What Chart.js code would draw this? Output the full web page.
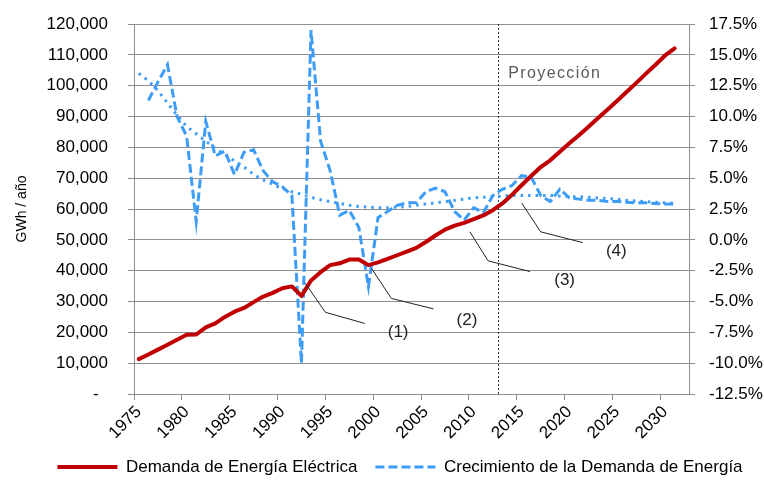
<!DOCTYPE html>
<html>
<head>
<meta charset="utf-8">
<script src="https://cdn.jsdelivr.net/npm/chart.js@4.4.1/dist/chart.umd.min.js"></script>
<style>
  html, body { margin: 0; padding: 0; background: #fff; }
</style>
</head>
<body>
<canvas id="demand-chart" width="764" height="487"></canvas>
<script>
// Categories (years). Axis runs one year past the last data point.
const years = [
  "1975", "1976", "1977", "1978", "1979", "1980", "1981", "1982", "1983", "1984",
  "1985", "1986", "1987", "1988", "1989", "1990", "1991", "1992", "1993", "1994",
  "1995", "1996", "1997", "1998", "1999", "2000", "2001", "2002", "2003", "2004",
  "2005", "2006", "2007", "2008", "2009", "2010", "2011", "2012", "2013", "2014",
  "2015", "2016", "2017", "2018", "2019", "2020", "2021", "2022", "2023", "2024",
  "2025", "2026", "2027", "2028", "2029", "2030", "2031", "2032"
];

// Demanda de energía eléctrica (GWh/año), 1975-2031
const demand = [
  11300, 12800, 14400, 16000, 17600, 19200, 19300, 21600, 22900, 25000,
  26700, 27900, 29800, 31600, 32800, 34300, 34900, 31800, 36800, 39500,
  41800, 42400, 43600, 43600, 41800, 42700, 43800, 45000, 46200, 47400,
  49300, 51400, 53300, 54600, 55500, 56700, 57900, 59600, 61800, 64600,
  67700, 70700, 73600, 75800, 78600, 81300, 83900, 86700, 89500, 92300,
  95100, 98000, 100900, 103900, 106800, 109800, 112100
];

// Crecimiento anual de la demanda (%), 1975-2031
const growth = [
  null, 11.3, 12.8, 14.2, 10.0, 8.4, 1.5, 9.6, 6.8, 7.2,
  5.3, 7.1, 7.3, 5.6, 4.7, 4.3, 3.6, -10.0, 17.0, 8.0,
  5.6, 2.0, 2.4, 1.0, -3.8, 1.8, 2.3, 2.8, 3.0, 3.0,
  3.9, 4.2, 3.9, 2.3, 1.6, 2.6, 2.2, 3.6, 4.1, 4.4,
  5.2, 5.1, 3.6, 3.1, 4.1, 3.4, 3.3, 3.2, 3.2, 3.1,
  3.1, 3.05, 3.0, 3.0, 2.95, 2.9, 2.9
];

// Tendencia (línea punteada), 1975-2031
const growthTrend = [
  13.5, 12.9, 12.1, 11.1, 10.1, 9.2, 8.6, 8.0, 7.4, 6.9,
  6.4, 5.9, 5.3, 4.85, 4.5, 4.15, 3.9, 3.7, 3.45, 3.25,
  3.1, 2.95, 2.8, 2.7, 2.65, 2.6, 2.6, 2.65, 2.7, 2.8,
  2.9, 3.0, 3.1, 3.2, 3.3, 3.4, 3.45, 3.5, 3.55, 3.6,
  3.6, 3.6, 3.6, 3.6, 3.55, 3.5, 3.5, 3.45, 3.4, 3.35,
  3.3, 3.2, 3.15, 3.1, 3.05, 3.0, 2.95
];

const projectionStart = 2013;

// Leader lines for the notes: points as [year, GWh]
const notes = [
  { label: "(1)", path: [[1992.4, 35900], [1994.5, 26500], [1998.6, 22900]], at: [2002.1, 19900] },
  { label: "(2)", path: [[1999.3, 40800], [2001.4, 31000], [2005.8, 27600]], at: [2009.3, 24000] },
  { label: "(3)", path: [[2009.6, 52600], [2011.5, 43200], [2015.9, 39700]], at: [2019.5, 37000] },
  { label: "(4)", path: [[2015.0, 62000], [2017.0, 52600], [2021.4, 49100]], at: [2024.9, 46200] },
];

const gridColor = "#8e8e8e";
const blue = "#3d9cf5";

Chart.defaults.font.family = "'Liberation Sans', Arial, sans-serif";
Chart.defaults.font.size = 17;
Chart.defaults.color = "#000";

const xPixel = (scale, year) => scale.getPixelForValue(year - Number(years[0]));

// keep the plot area where it is: tick padding should not push it down
const fixWidth = (w) => (scale) => {
  scale.width = w;
  scale.paddingTop = 0;
  scale.paddingBottom = 0;
};

const annotations = {
  id: "annotations",
  beforeDatasetsDraw(chart) {
    const { ctx, chartArea, scales } = chart;
    const bx = Math.round(xPixel(scales.x, projectionStart - 0.5)) + 0.5;
    ctx.save();
    ctx.strokeStyle = "#333";
    ctx.lineWidth = 1;
    ctx.setLineDash([2, 2]);
    ctx.beginPath();
    ctx.moveTo(bx, chartArea.top);
    ctx.lineTo(bx, chartArea.bottom);
    ctx.stroke();
    ctx.restore();
  },
  afterDatasetsDraw(chart) {
    const { ctx, scales } = chart;
    const x = scales.x, y = scales.y;
    ctx.save();

    // "Proyección" label
    ctx.fillStyle = "#5a5a5a";
    ctx.font = "16px 'Liberation Sans', Arial, sans-serif";
    ctx.letterSpacing = "1.4px";
    ctx.textAlign = "left";
    ctx.textBaseline = "middle";
    ctx.fillText("Proyección", xPixel(x, 2013.6), y.getPixelForValue(103800));
    ctx.letterSpacing = "0px";

    // numbered notes with leader lines
    ctx.strokeStyle = "#222";
    ctx.lineWidth = 1;
    ctx.fillStyle = "#222";
    ctx.font = "17px 'Liberation Sans', Arial, sans-serif";
    ctx.textAlign = "center";
    notes.forEach((note) => {
      ctx.beginPath();
      note.path.forEach(([yr, v], i) => {
        const px = xPixel(x, yr), py = y.getPixelForValue(v);
        if (i === 0) ctx.moveTo(px, py); else ctx.lineTo(px, py);
      });
      ctx.stroke();
      ctx.fillText(note.label, xPixel(x, note.at[0]), y.getPixelForValue(note.at[1]));
    });
    ctx.restore();
  },
};

new Chart(document.getElementById("demand-chart"), {
  type: "line",
  data: {
    labels: years,
    datasets: [
      {
        label: "Demanda de Energía Eléctrica",
        data: demand,
        yAxisID: "y",
        borderColor: "#c00000",
        backgroundColor: "#c00000",
        borderWidth: 4,
        borderCapStyle: "round",
        borderJoinStyle: "round",
        pointRadius: 0,
        tension: 0,
      },
      {
        label: "Crecimiento de la Demanda de Energía",
        data: growth,
        yAxisID: "y1",
        borderColor: blue,
        backgroundColor: blue,
        borderWidth: 3,
        borderDash: [9, 4],
        pointRadius: 0,
        tension: 0,
      },
      {
        label: "Tendencia",
        data: growthTrend,
        yAxisID: "y1",
        borderColor: blue,
        backgroundColor: blue,
        borderWidth: 3,
        borderDash: [2.5, 5],
        pointRadius: 0,
        tension: 0,
      },
    ],
  },
  options: {
    responsive: false,
    animation: false,
    devicePixelRatio: 1,
    layout: { padding: { left: 36, right: 0, top: 24, bottom: 1.5 } },
    plugins: {
      tooltip: { enabled: false },
      legend: {
        position: "bottom",
        labels: {
          usePointStyle: true,
          pointStyle: "line",
          pointStyleWidth: 60,
          padding: 18,
          color: "#000",
          // point style drops the dash pattern, so copy it from the dataset
          generateLabels: (chart) =>
            Chart.defaults.plugins.legend.labels.generateLabels(chart).map((item) => {
              const ds = chart.data.datasets[item.datasetIndex];
              item.lineDash = ds.borderDash || [];
              item.lineWidth = ds.borderWidth;
              item.lineCap = "butt";
              return item;
            }),
          filter: (item) => item.datasetIndex !== 2,
        },
      },
    },
    scales: {
      x: {
        type: "category",
        offset: true,
        afterFit: (scale) => { scale.height = 46.5; },
        grid: {
          offset: true,
          drawOnChartArea: false,
          tickLength: 6,
          tickColor: (c) => (c.index % 5 === 0 ? gridColor : "transparent"),
        },
        border: { display: true, color: gridColor, width: 1 },
        ticks: {
          autoSkip: false,
          minRotation: 45,
          maxRotation: 45,
          padding: 2,
          color: "#000",
          callback: (value, index) => (index % 5 === 0 ? years[index] : ""),
        },
      },
      y: {
        position: "left",
        min: 0,
        max: 120000,
        afterFit: fixWidth(98),
        grid: { color: gridColor, tickLength: 6 },
        border: { display: true, color: gridColor, width: 1 },
        ticks: {
          stepSize: 10000,
          padding: 20,
          color: "#000",
          callback: (v) => (v === 0 ? "-  " : v.toLocaleString("en-US")),
        },
        title: {
          display: true,
          text: "GWh / año",
          font: { size: 14 },
          color: "#000",
          padding: { top: -22, bottom: 0 },
        },
      },
      y1: {
        position: "right",
        min: -12.5,
        max: 17.5,
        afterFit: fixWidth(75),
        grid: { drawOnChartArea: false, color: gridColor, tickLength: 6 },
        border: { display: true, color: gridColor, width: 1 },
        ticks: {
          stepSize: 2.5,
          padding: 14,
          color: "#000",
          callback: (v) => v.toFixed(1) + "%",
        },
      },
    },
  },
  plugins: [annotations],
});
</script>
</body>
</html>
